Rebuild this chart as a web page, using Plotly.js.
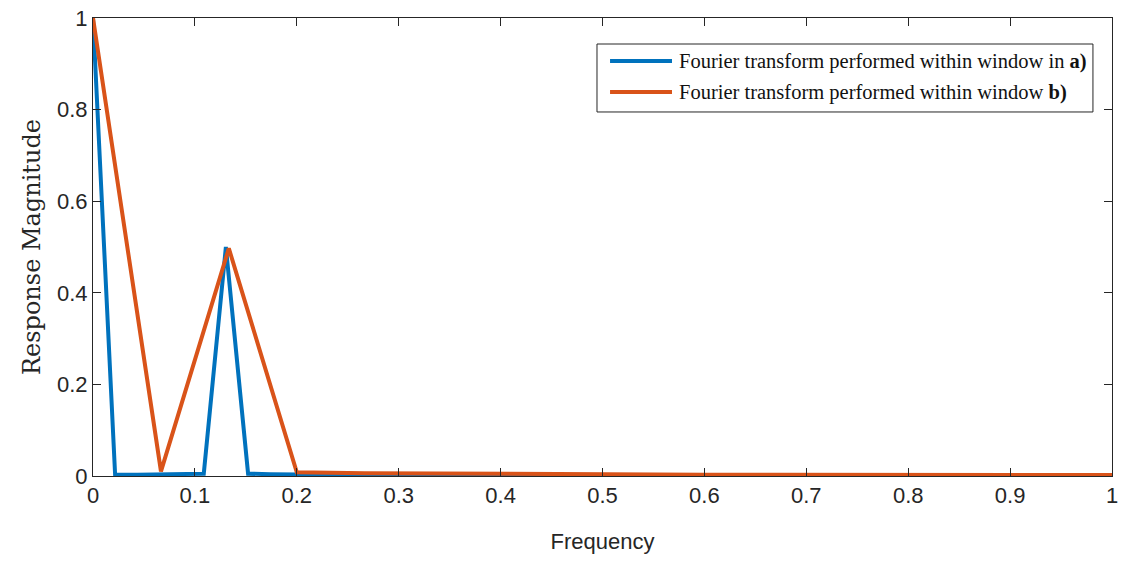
<!DOCTYPE html>
<html>
<head>
<meta charset="utf-8">
<script src="https://cdn.plot.ly/plotly-3.0.1.min.js"></script>
<style>
  html, body { margin: 0; padding: 0; background: #ffffff; }
  #chart { width: 1127px; height: 561px; }
</style>
</head>
<body>
<div id="chart"></div>
<script>
// Frequency grid and response of the transform over window a)
const freqA = [
  0, 0.0217, 0.0435, 0.0652, 0.0870, 0.1087, 0.1304, 0.1522, 0.1739, 0.1957,
  0.2174, 0.2391, 0.2609, 0.2826, 0.3043, 0.3261, 0.3478, 0.3696, 0.3913, 0.4130,
  0.4348, 0.4565, 0.4783, 0.5000, 0.5217, 0.5435, 0.5652, 0.5870, 0.6087, 0.6304,
  0.6522, 0.6739, 0.6957, 0.7174, 0.7391, 0.7609, 0.7826, 0.8043, 0.8261, 0.8478,
  0.8696, 0.8913, 0.9130, 0.9348, 0.9565, 0.9783, 1.0000
];
const magA = [
  1.0, 0.003, 0.003, 0.003, 0.004, 0.005, 0.50, 0.005, 0.004, 0.003,
  0.003, 0.003, 0.002, 0.002, 0.002, 0.002, 0.002, 0.002, 0.002, 0.002,
  0.002, 0.002, 0.002, 0.002, 0.002, 0.002, 0.001, 0.001, 0.001, 0.001,
  0.001, 0.001, 0.001, 0.001, 0.001, 0.001, 0.001, 0.001, 0.001, 0.001,
  0.001, 0.001, 0.001, 0.001, 0.001, 0.001, 0.001
];

// Frequency grid and response of the transform over window b)
const freqB = [
  0, 0.0667, 0.1333, 0.2000, 0.2667, 0.3333, 0.4000, 0.4667,
  0.5333, 0.6000, 0.6667, 0.7333, 0.8000, 0.8667, 0.9333, 1.0000
];
const magB = [
  1.0, 0.010, 0.497, 0.008, 0.006, 0.005, 0.004, 0.004,
  0.003, 0.003, 0.003, 0.003, 0.002, 0.002, 0.002, 0.002
];

const seriesNames = [
  'Fourier transform performed within window in <b>a)</b>',
  'Fourier transform performed within window <b>b)</b>'
];
const seriesColors = ['#0072BD', '#D95319'];
const xTicks = [0, 0.1, 0.2, 0.3, 0.4, 0.5, 0.6, 0.7, 0.8, 0.9, 1];
const xTickText = ['0', '0.1', '0.2', '0.3', '0.4', '0.5', '0.6', '0.7', '0.8', '0.9', '1'];
const yTicks = [0, 0.2, 0.4, 0.6, 0.8, 1];
const yTickText = ['0', '0.2', '0.4', '0.6', '0.8', '1'];

const axisColor = '#262626';
const tickFont = { family: 'Liberation Sans, Arial, sans-serif', size: 22, color: axisColor };
const legendFont = { family: 'Liberation Serif, Times New Roman, serif', size: 20.5, color: '#111111' };

const traces = [
  {
    x: freqA, y: magA, name: seriesNames[0], type: 'scatter', mode: 'lines',
    line: { color: seriesColors[0], width: 4 }
  },
  {
    x: freqB, y: magB, name: seriesNames[1], type: 'scatter', mode: 'lines',
    line: { color: seriesColors[1], width: 4 }
  }
];

// Legend box drawn in paper coordinates, upper right of the axes
const legendBox = { x0: 0.4946, x1: 0.9813, y0: 0.7948, y1: 0.9432 };
const legendRows = [0.9060, 0.8384];
const sampleX = [0.5074, 0.5682];
const labelX = 0.5731;

const shapes = [
  {
    type: 'rect', xref: 'paper', yref: 'paper',
    x0: legendBox.x0, x1: legendBox.x1, y0: legendBox.y0, y1: legendBox.y1,
    line: { color: axisColor, width: 1 }, fillcolor: '#ffffff', layer: 'above'
  }
];
const annotations = [];
seriesNames.forEach((name, i) => {
  shapes.push({
    type: 'line', xref: 'paper', yref: 'paper',
    x0: sampleX[0], x1: sampleX[1], y0: legendRows[i], y1: legendRows[i],
    line: { color: seriesColors[i], width: 4 }, layer: 'above'
  });
  annotations.push({
    xref: 'paper', yref: 'paper', x: labelX, y: legendRows[i],
    xanchor: 'left', yanchor: 'middle', showarrow: false,
    text: name, font: legendFont
  });
});

const layout = {
  width: 1127, height: 561,
  margin: { l: 93, r: 15, t: 18, b: 85 },
  paper_bgcolor: '#ffffff', plot_bgcolor: '#ffffff',
  showlegend: false,
  shapes: shapes,
  annotations: annotations,
  xaxis: {
    range: [0, 1], tickvals: xTicks, ticktext: xTickText,
    showgrid: false, zeroline: false,
    showline: true, mirror: 'ticks', linecolor: axisColor, linewidth: 1,
    ticks: 'inside', ticklen: 8, tickcolor: axisColor, tickwidth: 1,
    tickfont: tickFont,
    title: { text: 'Frequency', font: { family: 'Liberation Sans, Arial, sans-serif', size: 22, color: axisColor }, standoff: 26 }
  },
  yaxis: {
    range: [0, 1], tickvals: yTicks, ticktext: yTickText,
    showgrid: false, zeroline: false,
    showline: true, mirror: 'ticks', linecolor: axisColor, linewidth: 1,
    ticks: 'inside', ticklen: 8, tickcolor: axisColor, tickwidth: 1,
    tickfont: tickFont,
    title: { text: 'Response Magnitude', font: { family: 'DejaVu Serif, Liberation Serif, serif', size: 24, color: axisColor }, standoff: 9 }
  }
};

Plotly.newPlot('chart', traces, layout, { displayModeBar: false, staticPlot: true });
</script>
</body>
</html>
